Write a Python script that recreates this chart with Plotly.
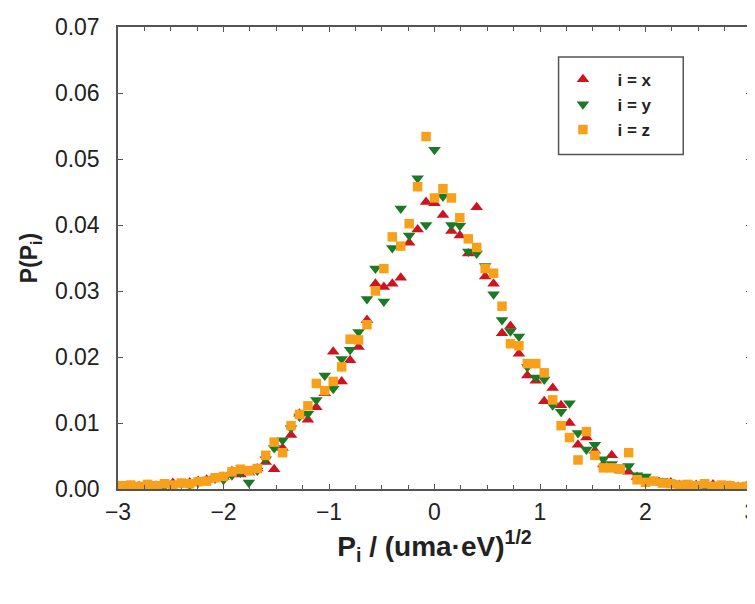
import plotly.graph_objects as go

# bin centres of the momentum histogram
p_bins = [
    -2.96, -2.88, -2.80, -2.72, -2.64, -2.56, -2.48, -2.40, -2.32, -2.24,
    -2.16, -2.08, -2.00, -1.92, -1.84, -1.76, -1.68, -1.60, -1.52, -1.44,
    -1.36, -1.28, -1.20, -1.12, -1.04, -0.96, -0.88, -0.80, -0.72, -0.64,
    -0.56, -0.48, -0.40, -0.32, -0.24, -0.16, -0.08, 0.00, 0.08, 0.16,
    0.24, 0.32, 0.40, 0.48, 0.56, 0.64, 0.72, 0.80, 0.88, 0.96,
    1.04, 1.12, 1.20, 1.28, 1.36, 1.44, 1.52, 1.60, 1.68, 1.76,
    1.84, 1.92, 2.00, 2.08, 2.16, 2.24, 2.32, 2.40, 2.48, 2.56,
    2.64, 2.72, 2.80, 2.88, 2.96,
]

prob_x = [
    0.0003, 0.0005, 0.0004, 0.0006, 0.0005, 0.0007, 0.0009, 0.0008, 0.0010, 0.0012,
    0.0014, 0.0016, 0.0018, 0.0027, 0.0022, 0.0025, 0.0031, 0.0041, 0.0030, 0.0062,
    0.0082, 0.0114, 0.0105, 0.0124, 0.0145, 0.0208, 0.0163, 0.0195, 0.0215, 0.0256,
    0.0311, 0.0306, 0.0311, 0.0320, 0.0373, 0.0393, 0.0435, 0.0433, 0.0415, 0.0391,
    0.0384, 0.0357, 0.0427, 0.0322, 0.0311, 0.0236, 0.0247, 0.0205, 0.0172, 0.0164,
    0.0133, 0.0153, 0.0127, 0.0100, 0.0067, 0.0078, 0.0058, 0.0037, 0.0051, 0.0028,
    0.0026, 0.0018, 0.0015, 0.0011, 0.0009, 0.0010, 0.0006, 0.0001, 0.0006, 0.0005,
    0.0007, 0.0004, 0.0005, 0.0003, 0.0004,
]

prob_y = [
    0.0002, 0.0004, 0.0003, 0.0005, 0.0006, 0.0004, 0.0007, 0.0008, 0.0006, 0.0010,
    0.0013, 0.0016, 0.0014, 0.0021, 0.0025, 0.0010, 0.0028, 0.0045, 0.0062, 0.0074,
    0.0092, 0.0110, 0.0114, 0.0135, 0.0172, 0.0152, 0.0197, 0.0211, 0.0238, 0.0288,
    0.0334, 0.0284, 0.0365, 0.0425, 0.0384, 0.0471, 0.0400, 0.0514, 0.0443, 0.0400,
    0.0399, 0.0360, 0.0357, 0.0338, 0.0295, 0.0256, 0.0239, 0.0231, 0.0185, 0.0169,
    0.0166, 0.0127, 0.0117, 0.0130, 0.0085, 0.0060, 0.0067, 0.0045, 0.0038, 0.0033,
    0.0035, 0.0021, 0.0019, 0.0014, 0.0012, 0.0009, 0.0008, 0.0006, 0.0007, 0.0004,
    0.0005, 0.0003, 0.0004, 0.0002, 0.0003,
]

prob_z = [
    0.0005, 0.0006, 0.0004, 0.0007, 0.0005, 0.0008, 0.0006, 0.0009, 0.0008, 0.0011,
    0.0012, 0.0017, 0.0019, 0.0026, 0.0030, 0.0028, 0.0031, 0.0051, 0.0071, 0.0055,
    0.0096, 0.0113, 0.0126, 0.0160, 0.0149, 0.0163, 0.0185, 0.0227, 0.0226, 0.0249,
    0.0300, 0.0334, 0.0382, 0.0368, 0.0402, 0.0458, 0.0534, 0.0441, 0.0455, 0.0441,
    0.0411, 0.0379, 0.0366, 0.0334, 0.0327, 0.0277, 0.0220, 0.0217, 0.0190, 0.0190,
    0.0176, 0.0135, 0.0096, 0.0078, 0.0044, 0.0087, 0.0051, 0.0032, 0.0032, 0.0030,
    0.0055, 0.0014, 0.0010, 0.0012, 0.0009, 0.0008, 0.0006, 0.0007, 0.0005, 0.0008,
    0.0004, 0.0006, 0.0005, 0.0003, 0.0004,
]

series_names = ["<b>i = x</b>", "<b>i = y</b>", "<b>i = z</b>"]
series_vals = [prob_x, prob_y, prob_z]
colors = ["#cc1520", "#1b7a26", "#f8a01a"]
symbols = ["triangle-up", "triangle-down", "square"]
sizes = [11, 11, 9.5]

FONT = "Liberation Sans, Arial, sans-serif"

fig = go.Figure()
for name, vals, c, s, sz in zip(series_names, series_vals, colors, symbols, sizes):
    fig.add_trace(go.Scatter(
        x=p_bins, y=vals, mode="markers", name=name,
        marker=dict(symbol=s, color=c, size=sz, line=dict(width=0)),
    ))

axis_common = dict(
    showline=True, linecolor="#555555", linewidth=1.5, mirror="ticks",
    ticks="inside", ticklen=5, tickwidth=1, tickcolor="#555555",
    showgrid=False, zeroline=False, ticklabeloverflow="allow",
    tickfont=dict(family=FONT, size=23, color="#222222"),
)

fig.update_xaxes(
    range=[-3, 3], dtick=1, tick0=0, ticklabelstandoff=2,
    minor=dict(dtick=0.25, ticks="inside", ticklen=4, tickcolor="#555555"),
    title=dict(text="<b>P<sub>i</sub> / (uma·eV)<sup>1/2</sup></b>",
               font=dict(family=FONT, size=28, color="#222222"),
               standoff=12),
    **axis_common,
)
fig.update_yaxes(
    range=[0, 0.07], dtick=0.01, tick0=0, tickformat=".2f", ticklabelstandoff=12,
    title=dict(text="<b>P(P<sub>i</sub>)</b>",
               font=dict(family=FONT, size=23, color="#222222"),
               standoff=11),
    **axis_common,
)

# legend frame
fig.add_shape(type="rect", xref="paper", yref="paper",
              x0=0.696, x1=0.893, y0=0.724, y1=0.935,
              line=dict(color="#555555", width=1.5), fillcolor="white", layer="below")

fig.update_layout(
    width=755, height=604,
    margin=dict(l=110, r=6, t=17, b=123),
    paper_bgcolor="white", plot_bgcolor="rgba(0,0,0,0)",
    showlegend=True,
    legend=dict(
        x=0.680, y=0.925, xanchor="left", yanchor="top",
        borderwidth=0, bgcolor="rgba(0,0,0,0)",
        font=dict(family=FONT, size=17, color="#222222"),
        itemwidth=59, tracegroupgap=0,
    ),
)

fig.write_html("out.html")
